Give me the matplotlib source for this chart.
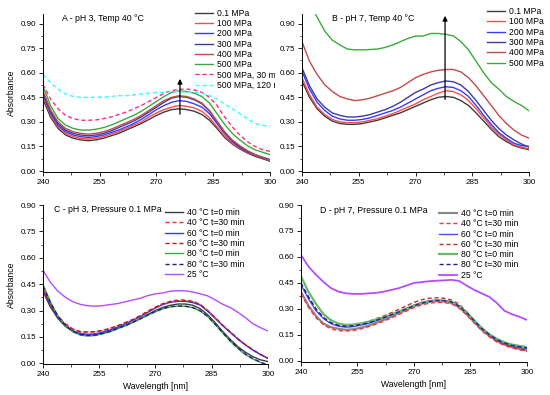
import numpy as np
import matplotlib.pyplot as plt
from matplotlib.ticker import MultipleLocator
from matplotlib.transforms import Bbox, TransformedBbox

plt.rcParams['font.family'] = ['Liberation Sans', 'DejaVu Sans']

# wavelength grid (nm)
wl = np.arange(240, 301, 2)

# ---- panel A: pH 3, 40 °C, pressure series
a_labels = ["0.1 MPa", "100 MPa", "200 MPa", "300 MPa", "400 MPa", "500 MPa",
            "500 MPa, 30 min", "500 MPa, 120 min"]
a_01 = [.44, .33, .26, .22, .20, .19, .185, .19, .20, .215, .23, .25, .27, .29, .315, .34,
        .36, .375, .38, .375, .365, .345, .31, .26, .205, .165, .135, .11, .09, .075, .06]
a_100 = [.46, .345, .27, .23, .21, .20, .195, .20, .21, .225, .24, .26, .28, .30, .33, .355,
         .375, .39, .40, .395, .385, .365, .325, .27, .215, .17, .14, .115, .095, .08, .065]
a_200 = [.47, .355, .28, .24, .22, .21, .205, .21, .22, .235, .25, .27, .29, .315, .345, .375,
         .40, .42, .43, .425, .41, .39, .35, .29, .23, .18, .145, .12, .10, .085, .07]
a_300 = [.48, .365, .29, .25, .23, .22, .215, .22, .23, .245, .265, .285, .305, .33, .36, .39,
         .42, .445, .455, .45, .435, .41, .365, .30, .235, .185, .15, .12, .10, .08, .065]
a_400 = [.49, .375, .30, .26, .24, .23, .225, .23, .24, .255, .275, .295, .315, .34, .37, .40,
         .43, .45, .46, .455, .44, .415, .37, .305, .24, .19, .155, .125, .10, .08, .065]
a_500 = [.52, .40, .32, .28, .26, .25, .25, .255, .265, .28, .30, .32, .34, .365, .395, .425,
         .455, .48, .49, .485, .475, .455, .415, .35, .285, .23, .19, .155, .13, .115, .10]
a_500_30 = [.53, .44, .38, .34, .32, .31, .31, .312, .32, .33, .345, .36, .38, .40, .425, .45,
            .475, .49, .50, .50, .495, .48, .45, .40, .33, .27, .22, .18, .15, .13, .12]
a_500_120 = [.59, .54, .50, .47, .455, .45, .45, .45, .45, .455, .46, .46, .465, .47, .475, .48,
             .48, .485, .485, .48, .48, .475, .46, .44, .41, .38, .35, .32, .29, .28, .27]

# ---- panel B: pH 7, 40 °C, pressure series
b_labels = ["0.1 MPa", "100 MPa", "200 MPa", "300 MPa", "400 MPa", "500 MPa"]
b_01 = [.55, .45, .38, .335, .305, .29, .285, .285, .29, .30, .31, .325, .34, .355, .375, .395,
        .415, .435, .45, .455, .45, .43, .40, .355, .305, .255, .21, .18, .155, .14, .13]
b_100 = [.57, .465, .39, .345, .315, .30, .295, .295, .30, .31, .32, .335, .35, .37, .39, .41,
         .435, .455, .475, .49, .485, .465, .43, .38, .325, .27, .225, .19, .16, .145, .135]
b_200 = [.61, .50, .42, .37, .335, .318, .31, .31, .315, .325, .34, .355, .37, .39, .415, .44,
         .465, .49, .505, .515, .51, .49, .455, .40, .34, .285, .235, .20, .17, .155, .15]
b_300 = [.63, .52, .44, .39, .355, .34, .33, .33, .335, .345, .36, .375, .395, .42, .45, .48,
         .50, .525, .54, .55, .545, .525, .485, .43, .37, .31, .26, .22, .19, .165, .145]
b_400 = [.79, .67, .59, .527, .486, .455, .44, .43, .435, .445, .46, .475, .49, .51, .54, .57,
         .59, .605, .615, .62, .62, .605, .57, .52, .46, .40, .34, .29, .25, .22, .20]
b_500 = [1.10, 1.02, .94, .855, .80, .77, .745, .74, .74, .742, .745, .755, .77, .79, .81, .824,
         .824, .84, .84, .835, .825, .79, .74, .67, .60, .54, .50, .455, .425, .40, .367]

# ---- panel C: pH 3, 0.1 MPa, temperature series
t_labels = ["40 °C t=0 min", "40 °C t=30 min", "60 °C t=0 min", "60 °C t=30 min",
            "80 °C t=0 min", "80 °C t=30 min", "25 °C"]
c_40_0 = [.41, .32, .255, .21, .18, .165, .16, .163, .172, .185, .2, .215, .233, .255, .278, .30,
          .318, .33, .337, .337, .33, .31, .275, .23, .18, .135, .095, .063, .038, .02, .01]
c_40_30 = [.43, .335, .27, .225, .195, .18, .177, .18, .188, .20, .215, .232, .25, .272, .297, .32,
           .34, .353, .36, .36, .353, .335, .30, .26, .215, .178, .14, .107, .077, .05, .03]
c_60_0 = [.42, .33, .26, .215, .185, .17, .165, .168, .178, .19, .207, .224, .244, .266, .29, .314,
          .334, .347, .352, .352, .345, .33, .295, .255, .213, .175, .137, .104, .075, .05, .028]
c_60_30 = [.42, .33, .265, .222, .193, .18, .178, .18, .187, .198, .213, .23, .248, .27, .294, .317,
           .337, .35, .356, .356, .35, .333, .298, .258, .216, .178, .14, .106, .077, .051, .03]
c_80_0 = [.45, .35, .27, .215, .18, .16, .155, .158, .168, .18, .197, .213, .232, .252, .273, .293,
          .31, .321, .325, .324, .316, .297, .265, .22, .172, .125, .085, .05, .025, .005, -.01]
c_80_30 = [.44, .345, .268, .215, .182, .163, .158, .16, .17, .182, .199, .215, .234, .254, .275, .295,
           .312, .322, .326, .325, .317, .298, .266, .221, .173, .127, .087, .052, .027, .007, -.01]
c_25 = [.53, .46, .41, .375, .35, .335, .327, .325, .328, .334, .34, .35, .36, .37, .385, .395,
        .40, .41, .413, .412, .405, .395, .383, .36, .335, .317, .29, .26, .225, .203, .184]

# ---- panel D: pH 7, 0.1 MPa, temperature series
d_40_0 = [.40, .32, .26, .215, .195, .185, .18, .183, .192, .205, .22, .237, .255, .275, .295, .315,
          .33, .34, .345, .343, .335, .31, .27, .225, .18, .145, .115, .095, .08, .07, .06]
d_40_30 = [.39, .31, .25, .21, .185, .175, .172, .176, .185, .198, .213, .23, .248, .268, .288, .308,
           .323, .333, .338, .337, .33, .305, .265, .22, .175, .14, .11, .09, .075, .065, .055]
d_60_0 = [.44, .36, .29, .245, .215, .20, .195, .198, .207, .218, .232, .248, .265, .283, .302, .322,
          .337, .347, .352, .35, .342, .318, .278, .232, .187, .15, .12, .10, .088, .078, .07]
d_60_30 = [.45, .37, .30, .25, .22, .205, .20, .204, .214, .228, .244, .26, .278, .298, .318, .338,
           .353, .362, .365, .362, .352, .328, .285, .235, .187, .148, .118, .098, .083, .07, .06]
d_80_0 = [.49, .40, .33, .27, .235, .215, .208, .21, .217, .227, .24, .253, .268, .285, .302, .32,
          .334, .343, .348, .347, .34, .318, .28, .235, .19, .155, .128, .108, .095, .087, .08]
d_80_30 = [.45, .37, .30, .25, .22, .205, .20, .203, .21, .22, .234, .25, .266, .283, .30, .318,
           .333, .343, .348, .347, .34, .316, .278, .232, .188, .152, .124, .104, .09, .082, .075]
d_25 = [.613, .546, .498, .456, .42, .40, .39, .387, .387, .39, .393, .40, .41, .42, .435, .45,
        .455, .46, .463, .465, .468, .462, .435, .41, .39, .37, .335, .29, .27, .255, .237]

press_colors = ["#3c3c3c", "#ff4a4a", "#3a3aff", "#3d3da0", "#c24a4a", "#3aaa3a"]

fig = plt.figure(figsize=(5.5, 3.95), dpi=100)
axA = fig.add_axes([0.078, 0.565, 0.413, 0.400])
axB = fig.add_axes([0.549, 0.565, 0.413, 0.400])
axC = fig.add_axes([0.078, 0.078, 0.409, 0.403])
axD = fig.add_axes([0.547, 0.084, 0.411, 0.397])


def style(ax, ytop):
    ax.set_xlim(240, 300)
    ax.set_ylim(-0.005, ytop)
    ax.spines['top'].set_visible(False)
    ax.spines['right'].set_visible(False)
    ax.set_xticks([240, 255, 270, 285, 300])
    ax.set_yticks(np.arange(0, 0.91, 0.15))
    ax.yaxis.set_major_formatter(plt.FormatStrFormatter('%.2f'))
    ax.xaxis.set_minor_locator(MultipleLocator(7.5))
    ax.yaxis.set_minor_locator(MultipleLocator(0.075))
    ax.tick_params(labelsize=5.8, length=3, width=0.6, pad=2)
    ax.tick_params(which='minor', length=1.8, width=0.5)
    for s in ax.spines.values():
        s.set_linewidth(0.7)


leg_kw = dict(frameon=False, fontsize=6.2, handlelength=2.1, handletextpad=0.45,
              labelspacing=0.15, borderpad=0, borderaxespad=0, loc='upper left')
title_fs = 6.3
label_fs = 6.2

# A
for ys, c, lab in zip([a_01, a_100, a_200, a_300, a_400, a_500], press_colors, a_labels):
    axA.plot(wl, ys, color=c, lw=1.0, label=lab)
axA.plot(wl, a_500_30, color="#ff2a8a", lw=1.0, ls=(0, (3, 2)), label=a_labels[6])
axA.plot(wl, a_500_120, color="#33ffff", lw=1.0, ls=(0, (3, 2)), label=a_labels[7])
style(axA, 0.96)
axA.annotate('', xy=(276.2, 0.58), xytext=(276.2, 0.33),
             arrowprops=dict(arrowstyle='-|>', color='black', lw=0.9, mutation_scale=7))
axA.text(245, 0.93, "A - pH 3, Temp 40 °C", fontsize=title_fs, va='center')
axA.set_ylabel("Absorbance", fontsize=label_fs, labelpad=3)
legA = axA.legend(bbox_to_anchor=(0.355, 0.978), bbox_transform=fig.transFigure, **leg_kw)
# the reference cuts the legend at the panel edge
clip = TransformedBbox(Bbox([[0, 0], [0.5, 1]]), fig.transFigure)
for t in legA.get_texts():
    t.set_clip_box(clip)
    t.set_clip_on(True)

# B
for ys, c, lab in zip([b_01, b_100, b_200, b_300, b_400, b_500], press_colors, b_labels):
    axB.plot(wl, ys, color=c, lw=1.0, label=lab)
style(axB, 0.96)
axB.annotate('', xy=(277.8, 0.965), xytext=(277.8, 0.42),
             arrowprops=dict(arrowstyle='-|>', color='black', lw=0.9, mutation_scale=7),
             annotation_clip=False)
axB.text(248, 0.93, "B - pH 7, Temp 40 °C", fontsize=title_fs, va='center')
axB.legend(bbox_to_anchor=(0.885, 0.982), bbox_transform=fig.transFigure, **leg_kw)

# C
axC.plot(wl, c_40_0, color="#3c3c3c", lw=1.0, label=t_labels[0])
axC.plot(wl, c_40_30, color="#ff3030", lw=1.0, ls=(0, (3, 2)), label=t_labels[1])
axC.plot(wl, c_60_0, color="#3a3aff", lw=1.0, label=t_labels[2])
axC.plot(wl, c_60_30, color="#b02020", lw=1.0, ls=(0, (3, 2)), label=t_labels[3])
axC.plot(wl, c_80_0, color="#3aaa3a", lw=1.0, label=t_labels[4])
axC.plot(wl, c_80_30, color="#202080", lw=1.0, ls=(0, (3, 2)), label=t_labels[5])
axC.plot(wl, c_25, color="#b44cff", lw=1.0, label=t_labels[6])
style(axC, 0.90)
axC.text(243, 0.875, "C - pH 3, Pressure 0.1 MPa", fontsize=title_fs, va='center')
axC.set_ylabel("Absorbance", fontsize=label_fs, labelpad=3)
axC.set_xlabel("Wavelength [nm]", fontsize=label_fs, labelpad=3)
axC.legend(bbox_to_anchor=(0.30, 0.473), bbox_transform=fig.transFigure, **leg_kw)

# D
axD.plot(wl, d_40_0, color="#8a8a8a", lw=1.6, label=t_labels[0])
axD.plot(wl, d_40_30, color="#ff3030", lw=1.0, ls=(0, (3, 2)), label=t_labels[1])
axD.plot(wl, d_60_0, color="#4a4aff", lw=1.0, label=t_labels[2])
axD.plot(wl, d_60_30, color="#c03030", lw=1.0, ls=(0, (3, 2)), label=t_labels[3])
axD.plot(wl, d_80_0, color="#66bb66", lw=1.6, label=t_labels[4])
axD.plot(wl, d_80_30, color="#2020a0", lw=1.0, ls=(0, (3, 2)), label=t_labels[5])
axD.plot(wl, d_25, color="#b44cff", lw=1.3, label=t_labels[6])
style(axD, 0.90)
axD.text(245, 0.87, "D - pH 7, Pressure 0.1 MPa", fontsize=title_fs, va='center')
axD.set_xlabel("Wavelength [nm]", fontsize=label_fs, labelpad=3)
axD.legend(bbox_to_anchor=(0.798, 0.471), bbox_transform=fig.transFigure, **leg_kw)

fig.savefig("out.png", dpi=100)
